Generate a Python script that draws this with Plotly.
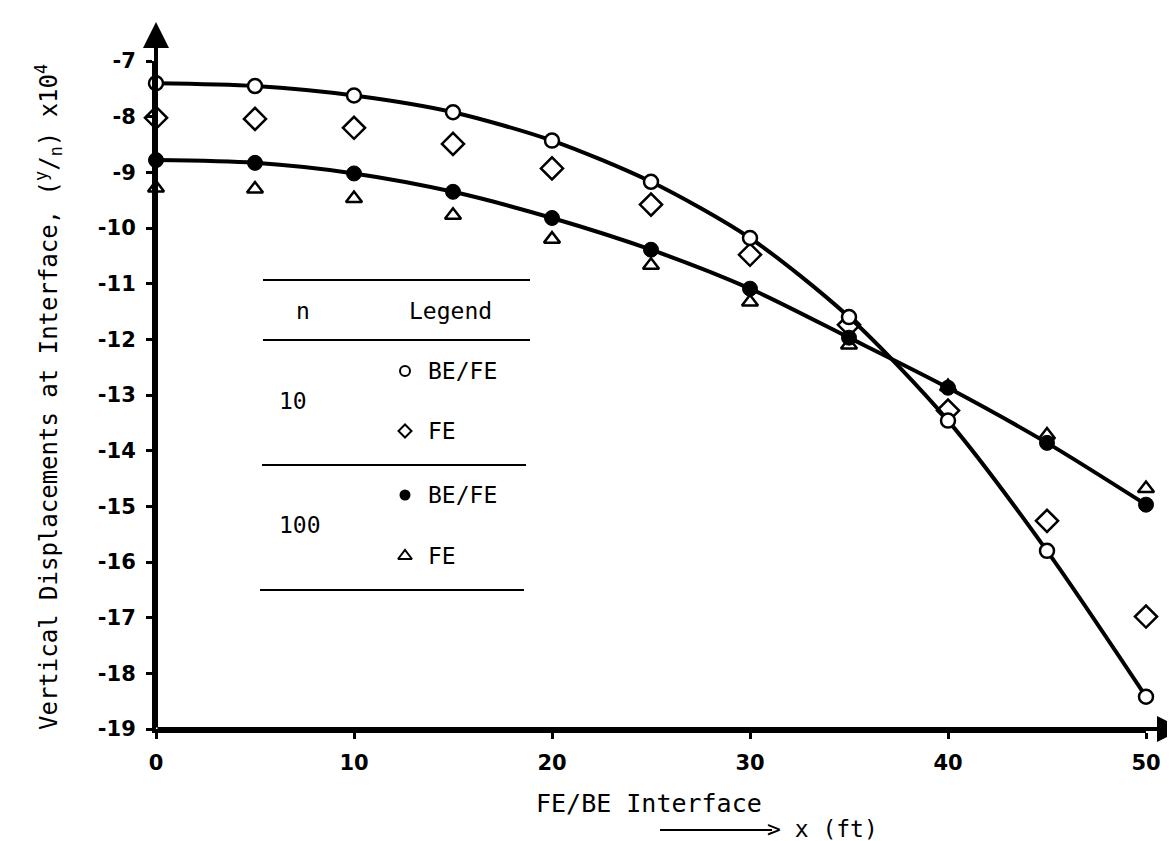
import plotly.graph_objects as go

# x positions along the interface (ft)
x_ft = [0, 5, 10, 15, 20, 25, 30, 35, 40, 45, 50]

# n = 10
be_fe_10 = [-7.40, -7.45, -7.62, -7.92, -8.43, -9.17, -10.18, -11.60, -13.46, -15.80, -18.42]
fe_10 = [-8.02, -8.04, -8.20, -8.49, -8.93, -9.58, -10.48, -11.74, -13.28, -15.26, -16.98]

# n = 100
be_fe_100 = [-8.78, -8.83, -9.02, -9.35, -9.82, -10.39, -11.09, -11.97, -12.87, -13.86, -14.97]
fe_100 = [-9.28, -9.30, -9.47, -9.77, -10.20, -10.67, -11.33, -12.10, -12.85, -13.72, -14.68]

x_ticks = [0, 10, 20, 30, 40, 50]
x_ticktext = ["0", "10", "20", "30", "40", "50"]
y_ticks = [-7, -8, -9, -10, -11, -12, -13, -14, -15, -16, -17, -18, -19]
y_ticktext = ["-7", "-8", "-9", "-10", "-11", "-12", "-13", "-14", "-15", "-16", "-17", "-18", "-19"]

W, H = 1175, 841
ML, MR, MT, MB = 148, 37, 53, 120
PW, PH = W - ML - MR, H - MT - MB
MONO = "DejaVu Sans Mono"
INK = "black"


def dx(px):
    return (px - ML) / PW * 50


def dy(py):
    return -7 - (py - MT) / PH * 12


def px_(px):
    return (px - ML) / PW


def py_(py):
    return (H - MB - py) / PH


def label(fig, x, y, text, size=23, anchor="center", angle=0):
    fig.add_annotation(xref="paper", yref="paper", x=px_(x), y=py_(y), text=text, showarrow=False,
                       xanchor=anchor, yanchor="middle", textangle=angle,
                       font=dict(family=MONO, size=size, color=INK))


fig = go.Figure()

open_marker = dict(symbol="circle", size=14, color="white", line=dict(color=INK, width=2.5))
filled_marker = dict(symbol="circle", size=15, color=INK, line=dict(color=INK, width=1))
diamond_marker = dict(symbol="diamond", size=17, color="white", line=dict(color=INK, width=2.5))
tri_marker = dict(symbol="triangle-up", size=14, color="white", line=dict(color=INK, width=2.5))

fig.add_trace(go.Scatter(x=x_ft, y=fe_10, mode="markers", marker=diamond_marker, cliponaxis=False))
fig.add_trace(go.Scatter(x=x_ft, y=fe_100, mode="markers", marker=tri_marker, cliponaxis=False))
fig.add_trace(go.Scatter(x=x_ft, y=be_fe_100, mode="lines+markers",
                         line=dict(color=INK, width=4, shape="spline", smoothing=0.8),
                         marker=filled_marker, cliponaxis=False))
fig.add_trace(go.Scatter(x=x_ft, y=be_fe_10, mode="lines+markers",
                         line=dict(color=INK, width=4, shape="spline", smoothing=0.8),
                         marker=open_marker, cliponaxis=False))

# legend table drawn inside the plot
for ly, x0, x1 in [(272, 255, 522), (332, 255, 522), (457, 254, 518), (582, 252, 516)]:
    fig.add_shape(type="line", xref="paper", yref="paper", x0=px_(x0), x1=px_(x1), y0=py_(ly), y1=py_(ly),
                  line=dict(color=INK, width=2))

leg_items = [
    (363, "BE/FE", dict(symbol="circle", size=10, color="white", line=dict(color=INK, width=2))),
    (423, "FE", dict(symbol="diamond", size=10, color="white", line=dict(color=INK, width=2))),
    (487, "BE/FE", dict(symbol="circle", size=11, color=INK)),
    (548, "FE", dict(symbol="triangle-up", size=12, color="white", line=dict(color=INK, width=2))),
]
for ly, txt, mk in leg_items:
    fig.add_trace(go.Scatter(x=[dx(397)], y=[dy(ly)], mode="markers", marker=mk))
    label(fig, 418, ly, txt, anchor="left")

label(fig, 295, 303, "n")
label(fig, 442, 303, "Legend")
label(fig, 285, 393, "10")
label(fig, 292, 517, "100")

# axis arrows
fig.add_annotation(x=dx(1175), y=-19, ax=0, ay=-19, axref="x", ayref="y", text="", showarrow=True,
                   arrowhead=2, arrowsize=1.3, arrowwidth=4, arrowcolor=INK)
fig.add_annotation(x=0, y=dy(14), ax=0, ay=-19, axref="x", ayref="y", text="", showarrow=True,
                   arrowhead=2, arrowsize=1.3, arrowwidth=4, arrowcolor=INK)

# axis titles
label(fig, 40, 389, "Vertical Displacements at Interface, (<sup>y</sup>/<sub>n</sub>) x10<sup>4</sup>",
      size=24, angle=-90)
label(fig, 641, 795, "FE/BE Interface", size=25)
fig.add_shape(type="line", xref="paper", yref="paper", x0=px_(652), x1=px_(764), y0=py_(822), y1=py_(822),
              line=dict(color=INK, width=2))
label(fig, 757, 821, "&gt; x (ft)", size=23, anchor="left")

fig.update_layout(
    width=W, height=H, showlegend=False,
    margin=dict(l=ML, r=MR, t=MT, b=MB),
    paper_bgcolor="white", plot_bgcolor="white",
    font=dict(family="DejaVu Sans", color=INK),
)
fig.update_xaxes(range=[0, 50], tickvals=x_ticks, ticktext=x_ticktext, showgrid=False, zeroline=False,
                 showline=True, linecolor=INK, linewidth=4, ticks="outside", ticklen=6, tickwidth=3, tickcolor=INK,
                 ticklabelstandoff=6, tickfont=dict(family="DejaVu Sans", size=21, color=INK, weight="bold"))
fig.update_yaxes(range=[-19, -7], tickvals=y_ticks, ticktext=y_ticktext, showgrid=False, zeroline=False,
                 showline=True, linecolor=INK, linewidth=4, ticks="outside", ticklen=6, tickwidth=3, tickcolor=INK,
                 ticklabelstandoff=6, tickfont=dict(family="DejaVu Sans", size=21, color=INK, weight="bold"))

fig.write_html("out.html")
